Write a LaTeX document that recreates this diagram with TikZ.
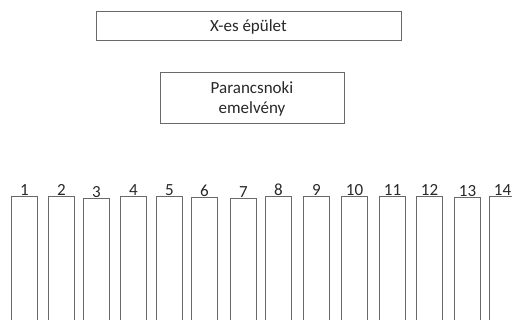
\documentclass[tikz,border=0pt]{standalone}
\usepackage{fontspec}
\setmainfont{Carlito}
\usetikzlibrary{positioning}
\definecolor{edge}{RGB}{105,105,105}
\definecolor{ink}{RGB}{40,40,40}

\begin{document}
\begin{tikzpicture}[x=1pt, y=-1pt,
  every node/.style={font=\fontsize{17}{20}\selectfont, text=ink},
  box/.style={draw=edge, line width=1pt, rectangle, inner sep=0pt},
  stall/.style={draw=edge, line width=1pt, rectangle, inner sep=0pt,
    minimum width=26pt, minimum height=140pt, anchor=north west},
  num/.style={inner sep=0pt}]
\useasboundingbox (0,0) rectangle (512,320);
\clip (0,0) rectangle (512,320);
\node (building) [box, minimum width=305pt, minimum height=29pt] at (248.5,26.5)
{X-es épület};
\node (podium) [box, minimum width=184pt, minimum height=51pt, align=center] at (252,98.5)
{Parancsnoki\\emelvény};
% sorok
\foreach \i/\x/\y in {1/11/196, 2/48/196, 3/83/198, 4/120/196, 5/156/196,
  6/191/197, 7/230/198, 8/265/196, 9/303/196, 10/341/196, 11/379/196,
  12/416/196, 13/454/197, 14/489/196} {
  \node (s\i) [stall] at (\x,\y) {};
  \node (n\i) [num, above=0pt of s\i] {\i};
}
\end{tikzpicture}
\end{document}
